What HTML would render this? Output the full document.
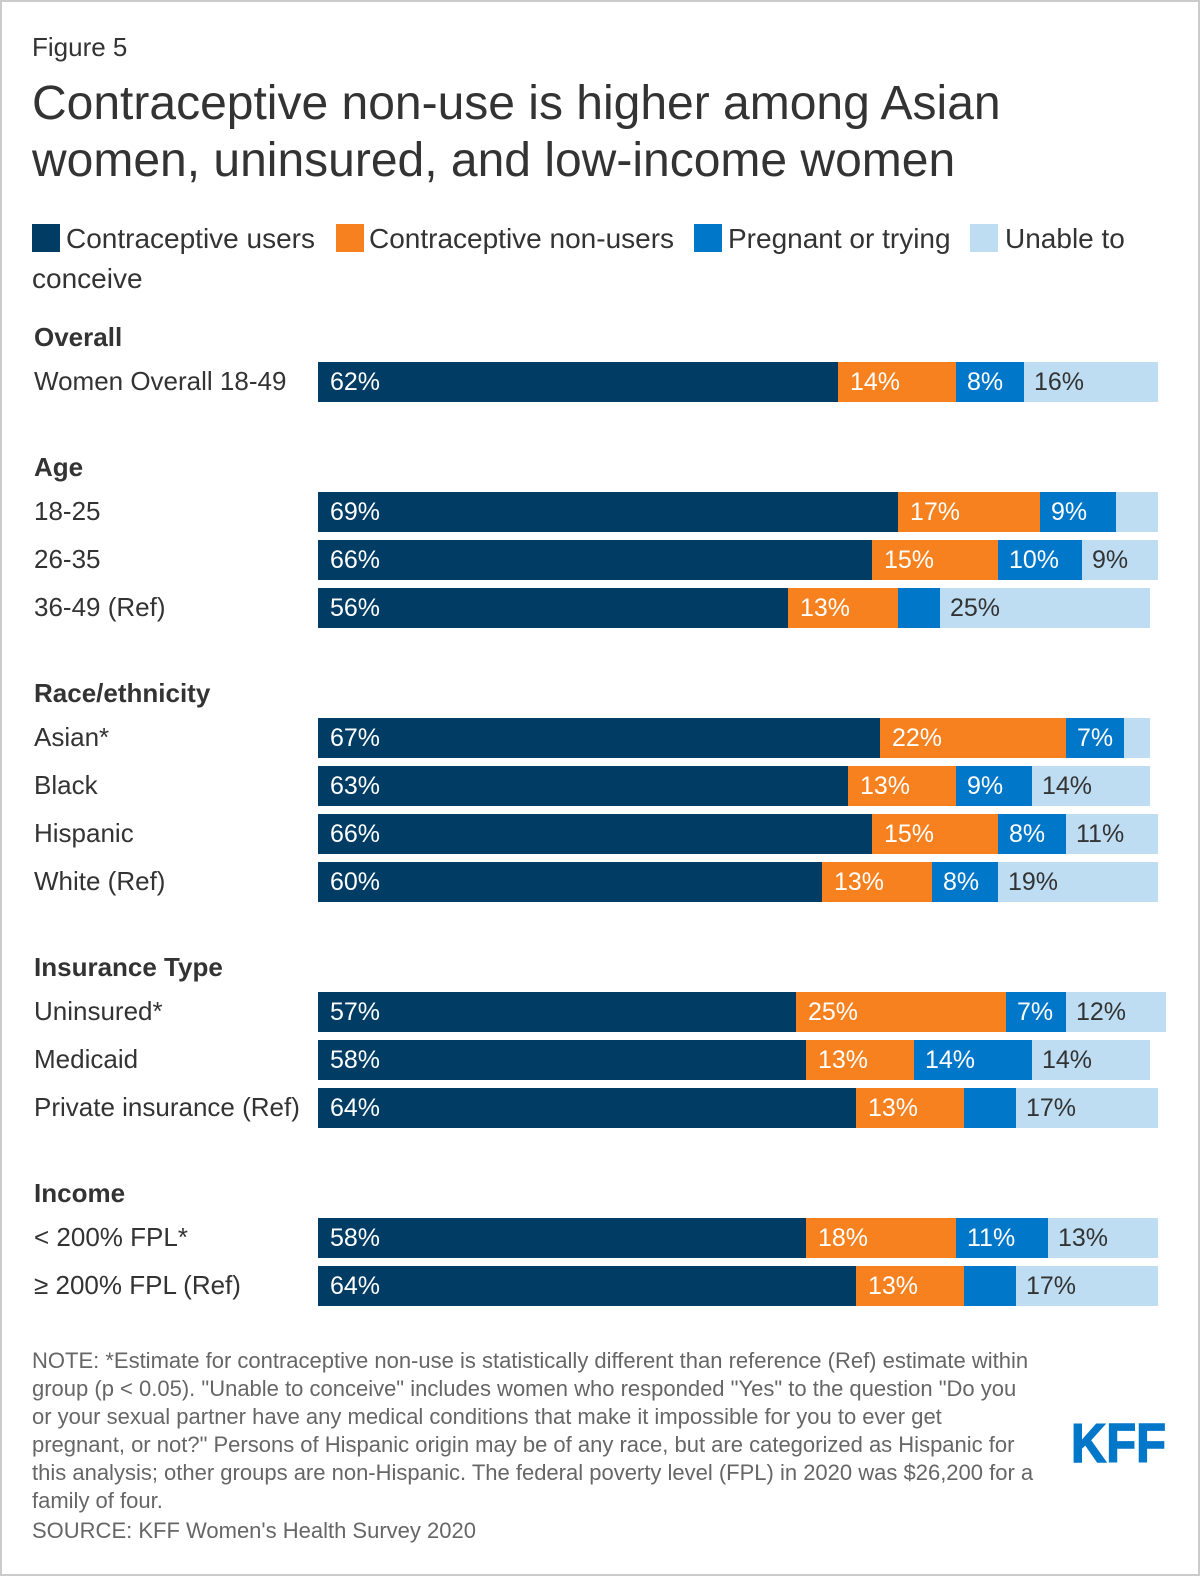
<!DOCTYPE html>
<html lang="en">
<head>
<meta charset="utf-8">
<title>Contraceptive non-use figure</title>
<style>
html,body{margin:0;padding:0;background:#fff}
body{width:1200px;height:1576px;overflow:hidden}
svg{display:block}
text{font-family:"Liberation Sans",Arial,sans-serif}
.fig{font-size:26px;fill:#333}
.title{font-size:48px;fill:#333}
.leg{font-size:28px;fill:#333}
.note{font-size:22px;fill:#666}
</style>
</head>
<body>
<svg id="chart" xmlns="http://www.w3.org/2000/svg" width="1200" height="1576" viewBox="0 0 1200 1576">
  <rect x="1" y="1" width="1198" height="1574" fill="#fff" stroke="#ccc" stroke-width="2"/>
  <text class="fig" x="32" y="56">Figure 5</text>
  <text class="title" x="32" y="119">Contraceptive non-use is higher among Asian</text>
  <text class="title" x="32" y="176">women, uninsured, and low-income women</text>
  <g>
    <rect x="32" y="224" width="28" height="28" fill="#003C64"/>
    <text class="leg" x="66" y="248">Contraceptive users</text>
    <rect x="336" y="224" width="28" height="28" fill="#F7811E"/>
    <text class="leg" x="369" y="248">Contraceptive non-users</text>
    <rect x="694" y="224" width="28" height="28" fill="#0077C9"/>
    <text class="leg" x="728" y="248">Pregnant or trying</text>
    <rect x="970" y="224" width="28" height="28" fill="#BEDDF2"/>
    <text class="leg" x="1005" y="248">Unable to</text>
    <text class="leg" x="32" y="288">conceive</text>
  </g>
  <g id="plot"></g>
  <g>
    <text class="note" x="32" y="1368">NOTE: *Estimate for contraceptive non-use is statistically different than reference (Ref) estimate within</text>
    <text class="note" x="32" y="1396">group (p &lt; 0.05). "Unable to conceive" includes women who responded "Yes" to the question "Do you</text>
    <text class="note" x="32" y="1424">or your sexual partner have any medical conditions that make it impossible for you to ever get</text>
    <text class="note" x="32" y="1452">pregnant, or not?" Persons of Hispanic origin may be of any race, but are categorized as Hispanic for</text>
    <text class="note" x="32" y="1480">this analysis; other groups are non-Hispanic. The federal poverty level (FPL) in 2020 was $26,200 for a</text>
    <text class="note" x="32" y="1508">family of four.</text>
    <text class="note" x="32" y="1538">SOURCE: KFF Women's Health Survey 2020</text>
  </g>
  <text x="1071" y="1462" font-size="55" font-weight="700" fill="#0077C9" stroke="#0077C9" stroke-width="1.5" textLength="95" lengthAdjust="spacingAndGlyphs">KFF</text>
</svg>
<script>
const groupNames = ["Overall", "Age", "Race/ethnicity", "Insurance Type", "Income"];
const groupOfRow = [0, 1, 1, 1, 2, 2, 2, 2, 3, 3, 3, 4, 4];
const categories = ["Women Overall 18-49", "18-25", "26-35", "36-49 (Ref)", "Asian*", "Black", "Hispanic", "White (Ref)", "Uninsured*", "Medicaid", "Private insurance (Ref)", "< 200% FPL*", "\u2265 200% FPL (Ref)"];
const contraceptiveUsers = [62, 69, 66, 56, 67, 63, 66, 60, 57, 58, 64, 58, 64];
const contraceptiveNonUsers = [14, 17, 15, 13, 22, 13, 15, 13, 25, 13, 13, 18, 13];
const pregnantOrTrying = [8, 9, 10, 5, 7, 9, 8, 8, 7, 14, 6, 11, 6];
const unableToConceive = [16, 5, 9, 25, 3, 14, 11, 19, 12, 14, 17, 13, 17];

const NS = "http://www.w3.org/2000/svg";
const plot = document.getElementById("plot");
const seriesList = [
  { key: "users", values: contraceptiveUsers, fill: "#003C64", labelFill: "#fff", pad: 12 },
  { key: "non-users", values: contraceptiveNonUsers, fill: "#F7811E", labelFill: "#fff", pad: 12 },
  { key: "pregnant", values: pregnantOrTrying, fill: "#0077C9", labelFill: "#fff", pad: 11 },
  { key: "unable", values: unableToConceive, fill: "#BEDDF2", labelFill: "#333", pad: 10 }
];
const xScale = function (v) { return Math.round((318 + v * 8.4) / 2) * 2; };
const yScale = function (rowIndex) { return 362 + rowIndex * 48 + groupOfRow[rowIndex] * 82; };
const BAR_H = 40;
const MIN_LABELLED = 7;

function addText(x, y, content, size, fill, weight) {
  const t = document.createElementNS(NS, "text");
  t.setAttribute("x", x);
  t.setAttribute("y", y);
  t.setAttribute("font-size", size);
  t.setAttribute("fill", fill);
  if (weight) t.setAttribute("font-weight", weight);
  t.textContent = content;
  plot.appendChild(t);
  return t;
}

let lastGroup = -1;
categories.forEach(function (category, i) {
  const top = yScale(i);
  if (groupOfRow[i] !== lastGroup) {
    lastGroup = groupOfRow[i];
    const header = addText(34, top - 16, groupNames[lastGroup], 26, "#333", 700);
    
    
  }
  const rowLabel = addText(34, top + 28, category, 26, "#333");
  
  
  let cumulative = 0;
  seriesList.forEach(function (series) {
    const value = series.values[i];
    const x0 = xScale(cumulative);
    const x1 = xScale(cumulative + value);
    const bar = document.createElementNS(NS, "rect");
    bar.setAttribute("x", x0);
    bar.setAttribute("y", top);
    bar.setAttribute("width", x1 - x0);
    bar.setAttribute("height", BAR_H);
    bar.setAttribute("fill", series.fill);
    
    
    plot.appendChild(bar);
    if (value >= MIN_LABELLED) {
      const valueLabel = addText(x0 + series.pad, top + 28, value + "%", 25, series.labelFill);
      
      
    }
    cumulative += value;
  });
});
</script>
</body>
</html>
